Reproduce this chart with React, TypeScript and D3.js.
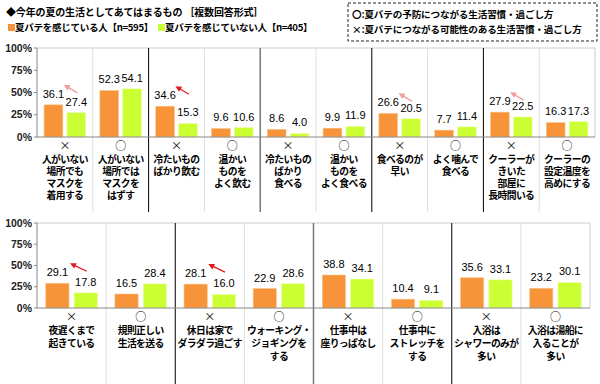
import React from "react";
import * as d3 from "d3";

// ---- data ----
const topSymbols = ["×", "○", "×", "○", "×", "○", "×", "○", "×", "○"];
const topLabels = [
  ["人がいない", "場所でも", "マスクを", "着用する"],
  ["人がいない", "場所では", "マスクを", "はずす"],
  ["冷たいもの", "ばかり飲む"],
  ["温かい", "ものを", "よく飲む"],
  ["冷たいもの", "ばかり", "食べる"],
  ["温かい", "ものを", "よく食べる"],
  ["食べるのが", "早い"],
  ["よく噛んで", "食べる"],
  ["クーラーが", "きいた", "部屋に", "長時間いる"],
  ["クーラーの", "設定温度を", "高めにする"],
];
const topFeel = [36.1, 52.3, 34.6, 9.6, 8.6, 9.9, 26.6, 7.7, 27.9, 16.3];
const topNoFeel = [27.4, 54.1, 15.3, 10.6, 4.0, 11.9, 20.5, 11.4, 22.5, 17.3];
const topArrows = [
  { idx: 0, kind: "pink" },
  { idx: 2, kind: "red" },
  { idx: 6, kind: "pink" },
  { idx: 8, kind: "pink" },
];

const bottomSymbols = ["×", "○", "×", "○", "×", "○", "×", "○"];
const bottomLabels = [
  ["夜遅くまで", "起きている"],
  ["規則正しい", "生活を送る"],
  ["休日は家で", "ダラダラ過ごす"],
  ["ウォーキング・", "ジョギングを", "する"],
  ["仕事中は", "座りっぱなし"],
  ["仕事中に", "ストレッチを", "する"],
  ["入浴は", "シャワーのみが", "多い"],
  ["入浴は湯船に", "入ることが", "多い"],
];
const bottomFeel = [29.1, 16.5, 28.1, 22.9, 38.8, 10.4, 35.6, 23.2];
const bottomNoFeel = [17.8, 28.4, 16.0, 28.6, 34.1, 9.1, 33.1, 30.1];
const bottomArrows = [
  { idx: 0, kind: "red" },
  { idx: 2, kind: "red" },
];

const yTicks = [0, 25, 50, 75, 100];
const seriesNames = ["夏バテを感じている人【n=595】", "夏バテを感じていない人【n=405】"];
const titleText = "◆今年の夏の生活としてあてはまるもの ［複数回答形式］";
const noteLines = [
  "〇:夏バテの予防につながる生活習慣・過ごし方",
  "×:夏バテにつながる可能性のある生活習慣・過ごし方",
];

const ORANGE = "#F7943A";
const GREEN = "#CCFF33";
const JP = "'Noto Sans CJK JP', 'Noto Sans', sans-serif";
const NUM = "'Liberation Sans', Arial, sans-serif";

type PanelProps = {
  symbols: string[];
  labels: string[][];
  a: number[];
  b: number[];
  arrows: { idx: number; kind: string }[];
  x0: number;
  x1: number;
  yTop: number;
  yBase: number;
  sepBottom: number;
  lineGap: number;
};

function Panel(p: PanelProps) {
  const n = p.a.length;
  const idx = d3.range(n).map(String);
  const x = d3.scaleBand<string>().domain(idx).range([p.x0, p.x1]).padding(0);
  const inner = d3
    .scaleBand<string>()
    .domain(["a", "b"])
    .range([0, x.bandwidth()])
    .paddingInner(0.18)
    .paddingOuter(0.31);
  const y = d3.scaleLinear().domain([0, 100]).range([p.yBase, p.yTop]);
  const bw = inner.bandwidth();

  return (
    <g>
      <line x1={p.x0} x2={p.x1} y1={y(100)} y2={y(100)} stroke="#cccccc" />
      <line x1={p.x1} x2={p.x1} y1={y(100)} y2={y(0)} stroke="#cccccc" />
      {d3.range(1, n).map((i) => {
        const xx = x(String(i))!;
        const pairEdge = i % 2 === 0;
        const col = !pairEdge ? "#dddddd" : i === 4 ? "#777777" : "#000000";
        return (
          <line
            key={"s" + i}
            x1={xx}
            x2={xx}
            y1={y(100)}
            y2={p.sepBottom}
            stroke={col}
            strokeWidth={pairEdge && i === 4 ? 1.5 : 1}
          />
        );
      })}
      <line x1={p.x0} x2={p.x0} y1={y(100)} y2={y(0)} stroke="#888888" />
      {yTicks.map((t) => (
        <g key={"t" + t}>
          <line x1={p.x0 - 3} x2={p.x0} y1={y(t)} y2={y(t)} stroke="#888888" />
          <text
            x={p.x0 - 5}
            y={y(t)}
            dy="0.35em"
            textAnchor="end"
            fontFamily={NUM}
            fontWeight="bold"
            fontSize={10.5}
            fill="#222"
          >
            {t + "%"}
          </text>
        </g>
      ))}
      {p.a.map((v, i) => {
        const cx = x(String(i))!;
        const xa = cx + inner("a")!;
        const xb = cx + inner("b")!;
        return (
          <g key={"b" + i}>
            <rect x={xa} y={y(v)} width={bw} height={y(0) - y(v)} fill={ORANGE} stroke="#FFC58A" strokeWidth={0.6} />
            <rect x={xb} y={y(p.b[i])} width={bw} height={y(0) - y(p.b[i])} fill={GREEN} stroke="#EEFFAA" strokeWidth={0.6} />
            <text x={xa + bw / 2} y={y(v) - 7} textAnchor="middle" fontFamily={NUM} fontSize={11} fill="#000">
              {v.toFixed(1)}
            </text>
            <text x={xb + bw / 2} y={y(p.b[i]) - 7} textAnchor="middle" fontFamily={NUM} fontSize={11} fill="#000">
              {p.b[i].toFixed(1)}
            </text>
          </g>
        );
      })}
      <line x1={p.x0} x2={p.x1} y1={y(0)} y2={y(0)} stroke="#888888" />
      {p.arrows.map((ar) => {
        const cx = x(String(ar.idx))!;
        const xa = cx + inner("a")!;
        const xb = cx + inner("b")!;
        const base = y(p.a[ar.idx]) - 7;
        const hx = xa + bw + 1;
        const hy = base - 13;
        const tx = xb + bw / 2 + 1;
        const ty = base - 5;
        const col = ar.kind === "red" ? "#E31A1C" : "#F29A9E";
        const ang = Math.atan2(hy - ty, hx - tx);
        const L = 6;
        const W = 3;
        const p1 = [hx - L * Math.cos(ang) + W * Math.sin(ang), hy - L * Math.sin(ang) - W * Math.cos(ang)];
        const p2 = [hx - L * Math.cos(ang) - W * Math.sin(ang), hy - L * Math.sin(ang) + W * Math.cos(ang)];
        return (
          <g key={"a" + ar.idx}>
            <line x1={tx} y1={ty} x2={hx - 3 * Math.cos(ang)} y2={hy - 3 * Math.sin(ang)} stroke={col} strokeWidth={1.3} />
            <polygon points={`${hx},${hy} ${p1[0]},${p1[1]} ${p2[0]},${p2[1]}`} fill={col} />
          </g>
        );
      })}
      {p.labels.map((lines, i) => {
        const cx = x(String(i))! + x.bandwidth() / 2;
        const maxW = x.bandwidth() - 3;
        return (
          <g key={"c" + i} fontFamily={JP} fill="#000" textAnchor="middle">
            <text x={cx} y={y(0) + 9} dy="0.35em" fontSize={11}>
              {p.symbols[i]}
            </text>
            <text fontWeight="bold" fontSize={9.8} letterSpacing={-0.6}>
              {lines.map((ln, j) => {
                const est = ln.length * 9.8 - (ln.length - 1) * 0.6;
                return (
                  <tspan
                    key={j}
                    x={cx}
                    y={y(0) + 23 + j * p.lineGap + 3.4}
                    textLength={est > maxW ? maxW : undefined}
                    lengthAdjust="spacingAndGlyphs"
                  >
                    {ln}
                  </tspan>
                );
              })}
            </text>
          </g>
        );
      })}
    </g>
  );
}

export default function App() {
  return (
    <svg width={600} height={384} style={{ position: "absolute", left: 0, top: 0, background: "#fff" }}>
      <rect width={600} height={384} fill="#fff" />
      <text x={6} y={12} dy="0.35em" fontFamily={JP} fontWeight="bold" fontSize={10} letterSpacing={-0.15} fill="#000">
        {titleText}
      </text>
      <rect x={8} y={24} width={7} height={7} fill={ORANGE} />
      <text x={15} y={28} dy="0.35em" fontFamily={JP} fontWeight="bold" fontSize={9.6} letterSpacing={-0.35} fill="#000">
        {seriesNames[0]}
      </text>
      <rect x={158} y={24} width={7} height={7} fill={GREEN} />
      <text x={165} y={28} dy="0.35em" fontFamily={JP} fontWeight="bold" fontSize={9.6} letterSpacing={-0.35} fill="#000">
        {seriesNames[1]}
      </text>
      <rect x={348} y={3} width={249} height={38} fill="none" stroke="#222" strokeDasharray="3,2" />
      <text fontFamily={JP} fontWeight="bold" fontSize={9.6} letterSpacing={-0.15} fill="#000">
        {noteLines.map((t, i) => (
          <tspan key={i} x={352} y={15 + i * 15 + 3.4}>
            {t}
          </tspan>
        ))}
      </text>
      <Panel
        symbols={topSymbols}
        labels={topLabels}
        a={topFeel}
        b={topNoFeel}
        arrows={topArrows}
        x0={37}
        x1={595}
        yTop={48}
        yBase={137}
        sepBottom={212}
        lineGap={12}
      />
      <Panel
        symbols={bottomSymbols}
        labels={bottomLabels}
        a={bottomFeel}
        b={bottomNoFeel}
        arrows={bottomArrows}
        x0={37}
        x1={590}
        yTop={223}
        yBase={308}
        sepBottom={384}
        lineGap={13}
      />
    </svg>
  );
}
